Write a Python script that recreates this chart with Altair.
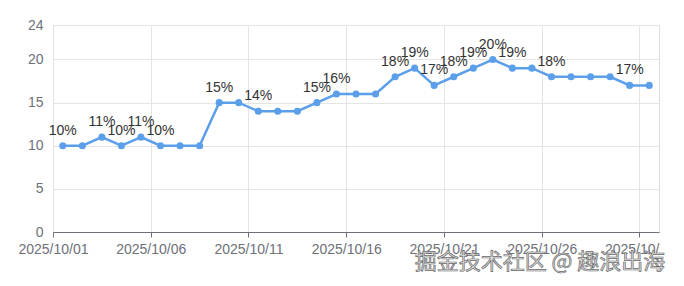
import altair as alt
import pandas as pd

dates = [f"2025-10-{d:02d}" for d in range(1, 32)]
values = [10, 10, 11, 10, 11, 10, 10, 10, 15, 15, 14, 14, 14, 15, 16, 16,
          16, 18, 19, 17, 18, 19, 20, 19, 19, 18, 18, 18, 18, 17, 17]
labels = ["10%", "", "11%", "10%", "11%", "10%", "", "", "15%", "", "14%", "", "",
          "15%", "16%", "", "", "18%", "19%", "17%", "18%", "19%", "20%", "19%", "",
          "18%", "", "", "", "17%", ""]
tick_days = [1, 6, 11, 16, 21, 26, 31]
y_ticks = [0, 5, 10, 15, 20, 24]
watermark = "掘金技术社区 @ 趣浪出海"

df = pd.DataFrame({"date": pd.to_datetime(dates), "value": values, "label": labels})

BLUE = "#5B9FEA"
AXIS = "#6E7079"
GRID = "#E4E4E4"
FONT = "Liberation Sans"

x_enc = alt.X(
    "yearmonthdate(date):T",
    bandPosition=0.5,
    scale=alt.Scale(domain=[alt.DateTime(year=2025, month=10, date=1),
                            alt.DateTime(year=2025, month=11, date=1)]),
    axis=alt.Axis(
        values=[alt.DateTime(year=2025, month=10, date=d) for d in tick_days],
        format="%Y/%m/%d", formatType="time", title=None,
        labelFontSize=14, labelColor=AXIS, labelFont=FONT,
        domainColor=AXIS, tickColor=AXIS, tickSize=5, labelPadding=5,
        grid=True, gridColor=GRID, labelFlush=False, labelOverlap=False,
    ),
)
y_enc = alt.Y(
    "value:Q",
    scale=alt.Scale(domain=[0, 24], nice=False),
    axis=alt.Axis(
        values=y_ticks, title=None, labelFontSize=14, labelColor=AXIS,
        labelFont=FONT, domain=False, ticks=False, labelPadding=10,
        grid=True, gridColor=GRID,
    ),
)

base = alt.Chart(df).encode(x=x_enc, y=y_enc)
line = base.mark_line(color=BLUE, strokeWidth=2.5)
pts = base.mark_circle(color=BLUE, size=50, opacity=1)
txt = base.mark_text(dy=-8, baseline="bottom", align="center", fontSize=14,
                     color="#333333", font=FONT).encode(text="label:N")

# white cover beyond original canvas edge (clips last tick label)
cover = alt.Chart(pd.DataFrame({"a": [0]})).mark_rect(color="white").encode(
    x=alt.value(607), x2=alt.value(640), y=alt.value(210), y2=alt.value(234))

wm = alt.Chart(pd.DataFrame({"t": [watermark]})).mark_text(
    font="Noto Sans CJK SC", fontSize=22, fill="#e4e4e4", stroke="#6a6a6a",
    strokeWidth=0.7, align="center", baseline="middle",
).encode(x=alt.value(487), y=alt.value(237), text="t:N")

chart = alt.layer(line, pts, txt, cover, wm).properties(
    width=606, height=207,
    padding={"left": 53, "top": 25, "right": 25, "bottom": 54},
    autosize=alt.AutoSizeParams(type="none"),
).configure_view(stroke=GRID).configure(background="white")

chart.save("out.html", embed_options={"renderer": "svg", "actions": False})
